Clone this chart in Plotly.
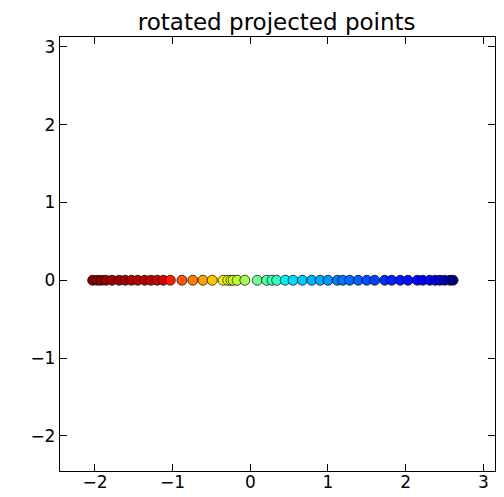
import plotly.graph_objects as go

# projected x-coordinates (all points lie on y = 0)
x_vals = [-2.03, -1.97, -1.92, -1.86, -1.78, -1.69, -1.61, -1.53, -1.45, -1.36,
          -1.28, -1.20, -1.12, -1.03, -0.88, -0.74, -0.61, -0.49, -0.35, -0.29,
          -0.25, -0.22, -0.17, -0.07, 0.09, 0.21, 0.28, 0.34, 0.45, 0.55,
          0.67, 0.79, 0.90, 1.00, 1.12, 1.19, 1.28, 1.39, 1.50, 1.60,
          1.73, 1.82, 1.93, 2.03, 2.15, 2.22, 2.31, 2.38, 2.44, 2.50,
          2.57, 2.61]
y_vals = [0.0] * len(x_vals)
# colour parameter (jet colormap, 1 = dark red, 0 = dark blue)
c_vals = [1.00, 0.99, 0.985, 0.98, 0.975, 0.97, 0.965, 0.96, 0.955, 0.95,
          0.945, 0.935, 0.92, 0.88, 0.82, 0.78, 0.74, 0.70, 0.65, 0.63,
          0.62, 0.61, 0.58, 0.55, 0.48, 0.45, 0.43, 0.41, 0.36, 0.34,
          0.32, 0.30, 0.29, 0.27, 0.25, 0.24, 0.23, 0.22, 0.20, 0.19,
          0.17, 0.16, 0.15, 0.14, 0.13, 0.12, 0.11, 0.09, 0.08, 0.06,
          0.03, 0.00]

x_ticks = [-2, -1, 0, 1, 2, 3]
y_ticks = [-2, -1, 0, 1, 2, 3]

mpl_jet = [
    [0.0, "rgb(0,0,127)"], [0.11, "rgb(0,0,255)"], [0.125, "rgb(0,0,255)"],
    [0.34, "rgb(0,219,255)"], [0.35, "rgb(0,229,247)"], [0.375, "rgb(20,255,226)"],
    [0.64, "rgb(239,255,8)"], [0.65, "rgb(247,245,0)"], [0.66, "rgb(255,236,0)"],
    [0.89, "rgb(255,19,0)"], [0.91, "rgb(232,0,0)"], [1.0, "rgb(127,0,0)"],
]

fig = go.Figure(go.Scatter(
    x=x_vals, y=y_vals, mode="markers",
    marker=dict(size=10, color=c_vals, colorscale=mpl_jet, cmin=0, cmax=1,
                line=dict(color="black", width=0.7)),
    showlegend=False,
))

axis_common = dict(
    showline=True, mirror="allticks", linecolor="black", linewidth=1.3,
    ticks="inside", ticklen=7, tickwidth=1, tickcolor="black",
    showgrid=False, zeroline=False, automargin=False,
    tickfont=dict(family="DejaVu Sans", size=17, color="black"),
)

fig.update_layout(
    width=504, height=497,
    margin=dict(l=60, r=9, t=37, b=26),
    paper_bgcolor="white", plot_bgcolor="white",
    title=dict(text="rotated projected points", x=0.549, xanchor="center",
               y=1 - 22 / 497, yanchor="middle",
               font=dict(family="DejaVu Sans", size=23, color="black")),
    xaxis=dict(range=[-2.45, 3.15], tickvals=x_ticks, ticklabelstandoff=-5,
               **axis_common),
    yaxis=dict(range=[-2.45, 3.125], tickvals=y_ticks, **axis_common),
)

fig.write_html("out.html")
